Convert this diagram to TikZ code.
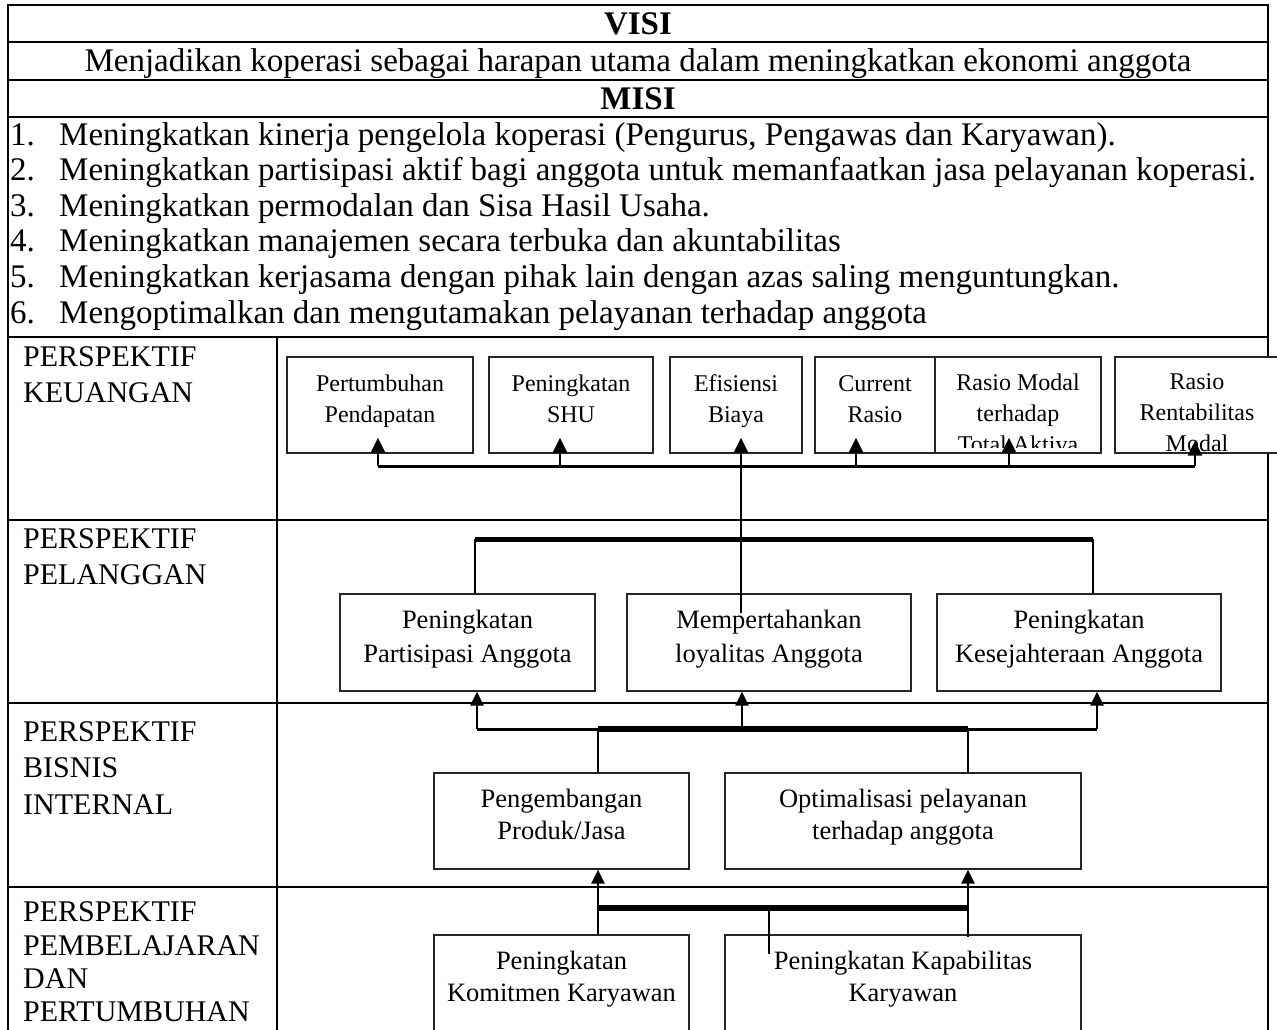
\documentclass[tikz,border=0pt]{standalone}
\usepackage{fontspec}
\setmainfont{Liberation Serif}
\usetikzlibrary{arrows.meta,calc}
\begin{document}
\begin{tikzpicture}[x=1pt,y=-1pt,
  grid/.style={line width=2pt,black},
  bx/.style={draw=black!85,line width=1.3pt,fill=white,inner sep=0pt},
  strt/.style={execute at begin node=\strut,execute at end node=\strut},
  ttop/.style={inner sep=0pt,align=center,strt,font=\fontsize{24}{31}\selectfont},
  tmid/.style={inner sep=0pt,align=center,strt,font=\fontsize{26.5}{34}\selectfont},
  tlow/.style={inner sep=0pt,align=center,strt,font=\fontsize{26.5}{32}\selectfont},
  lab/.style={inner sep=0pt,anchor=base west,font=\fontsize{30}{30}\selectfont},
  itm/.style={inner sep=0pt,anchor=base west,font=\fontsize{33}{33}\selectfont},
  ttl/.style={inner sep=0pt,anchor=base,font=\bfseries\fontsize{33}{33}\selectfont},
  arr/.style={-{Triangle[length=15pt,width=14pt]},line width=2.8pt},
  arrb/.style={-{Triangle[length=14pt,width=13pt]},line width=2.4pt},
  bus/.style={line width=3pt},
  busthick/.style={line width=6pt},
  thinl/.style={line width=1.6pt}]
\useasboundingbox (0,0) rectangle (1277,1029);
\clip (0,0) rectangle (1277,1029);

% ---------- table grid ----------
\foreach \yy in {5,42,80,117,337,520,703,887}
  \draw[grid] (7,\yy) -- (1269,\yy);
\draw[grid] (8,4) -- (8,1040);
\draw[grid] (1268,4) -- (1268,1040);
\draw[grid] (277,337) -- (277,1040);

% ---------- header texts ----------
\node[ttl] (visi) at (638,34) {VISI};
\node[itm,anchor=base] (visitext) at (638,71) {Menjadikan koperasi sebagai harapan utama dalam meningkatkan ekonomi anggota};
\node[ttl] (misi) at (638,109) {MISI};

\node[itm] (n1) at (10,145) {1.};
\node[itm] (m1) at (59,145) {Meningkatkan kinerja pengelola koperasi (Pengurus, Pengawas dan Karyawan).};
\node[itm] (n2) at (10,180.6) {2.};
\node[itm] (m2) at (59,180.6) {Meningkatkan partisipasi aktif bagi anggota untuk memanfaatkan jasa pelayanan koperasi.};
\node[itm] (n3) at (10,216.2) {3.};
\node[itm] (m3) at (59,216.2) {Meningkatkan permodalan dan Sisa Hasil Usaha.};
\node[itm] (n4) at (10,251.8) {4.};
\node[itm] (m4) at (59,251.8) {Meningkatkan manajemen secara terbuka dan akuntabilitas};
\node[itm] (n5) at (10,287.4) {5.};
\node[itm] (m5) at (59,287.4) {Meningkatkan kerjasama dengan pihak lain dengan azas saling menguntungkan.};
\node[itm] (n6) at (10,323) {6.};
\node[itm] (m6) at (59,323) {Mengoptimalkan dan mengutamakan pelayanan terhadap anggota};

% ---------- left column labels ----------
\node[lab] (k1l) at (23,366) {PERSPEKTIF};
\node[lab] (k2l) at (23,402) {KEUANGAN};
\node[lab] (p1l) at (23,548) {PERSPEKTIF};
\node[lab] (p2l) at (23,584) {PELANGGAN};
\node[lab] (s1l) at (23,741) {PERSPEKTIF};
\node[lab] (s2l) at (23,777) {BISNIS};
\node[lab] (s3l) at (23,814) {INTERNAL};
\node[lab] (l1l) at (23,921) {PERSPEKTIF};
\node[lab] (l2l) at (23,955) {PEMBELAJARAN};
\node[lab] (l3l) at (23,988.5) {DAN};
\node[lab] (l4l) at (23,1021.5) {PERTUMBUHAN};

% ---------- keuangan boxes ----------
\node[bx,minimum width=186pt,minimum height=96pt] (b1) at (380,405) {};
\node[bx,minimum width=164pt,minimum height=96pt] (b2) at (571,405) {};
\node[bx,minimum width=132pt,minimum height=96pt] (b3) at (736,405) {};
\node[bx,minimum width=120pt,minimum height=96pt] (b4) at (875,405) {};
\node[bx,minimum width=166pt,minimum height=96pt] (b5) at (1018,405) {};
\node[bx,minimum width=165pt,minimum height=96pt] (b6) at (1197.5,405) {};
\node[ttop] (b1t) at (380,403.5) {Pertumbuhan\\Pendapatan};
\node[ttop] (b2t) at (571,403.5) {Peningkatan\\SHU};
\node[ttop] (b3t) at (736,403.5) {Efisiensi\\Biaya};
\node[ttop] (b4t) at (875,403.5) {Current\\Rasio};
\begin{scope}
  \clip (936,358) rectangle (1100,447);
  \node[ttop] (b5t) at (1018,418) {Rasio Modal\\terhadap\\Total Aktiva};
\end{scope}
\node[ttop] (b6t) at (1197,417) {Rasio\\Rentabilitas\\Modal};

% ---------- pelanggan boxes ----------
\node[bx,minimum width=255pt,minimum height=97pt] (p1) at (467.5,642.5) {};
\node[bx,minimum width=284pt,minimum height=97pt] (p2) at (769,642.5) {};
\node[bx,minimum width=284pt,minimum height=97pt] (p3) at (1079,642.5) {};
\node[tmid] (p1t) at (467.5,641) {Peningkatan\\Partisipasi Anggota};
\node[tmid] (p2t) at (769,641) {Mempertahankan\\loyalitas Anggota};
\node[tmid] (p3t) at (1079,641) {Peningkatan\\Kesejahteraan Anggota};

% ---------- bisnis internal boxes ----------
\node[bx,minimum width=255pt,minimum height=96pt] (s1) at (561.5,821) {};
\node[bx,minimum width=356pt,minimum height=96pt] (s2) at (903,821) {};
\node[tlow] (s1t) at (561.5,819) {Pengembangan\\Produk/Jasa};
\node[tlow] (s2t) at (903,819) {Optimalisasi pelayanan\\terhadap anggota};

% ---------- pembelajaran boxes ----------
\node[bx,minimum width=255pt,minimum height=120pt] (l1) at (561.5,995) {};
\node[bx,minimum width=356pt,minimum height=120pt] (l2) at (903,995) {};
\node[tlow] (l1t) at (561.5,981) {Peningkatan\\Komitmen Karyawan};
\node[tlow] (l2t) at (903,981) {Peningkatan Kapabilitas\\Karyawan};

% ---------- keuangan connectors ----------
\coordinate (k1) at (378,466);
\coordinate (k2) at (560,466);
\coordinate (k3) at (741,466);
\coordinate (k4) at (856,466);
\coordinate (k5) at (1009,466);
\coordinate (k6) at (1195,466);
\draw[bus] (k1) -- (k6);
\draw[arr] (k1) -- ($(k1 |- b1.south)+(0,-16)$);
\draw[arr] (k2) -- ($(k2 |- b2.south)+(0,-16)$);
\draw[arr] (k3) -- ($(k3 |- b3.south)+(0,-16)$);
\draw[arr] (k4) -- ($(k4 |- b4.south)+(0,-16)$);
\draw[arr] (k5) -- ($(k5 |- b5.south)+(0,-16)$);
\draw[arr] (k6) -- ($(k6 |- b6.south)+(0,-13)$);
\draw[line width=2pt] (k3) -- ($(k3 |- p2.north)+(0,20)$);

% ---------- pelanggan connectors ----------
\coordinate (q1) at (475,539);
\coordinate (q3) at (1093,539);
\draw[line width=5pt] (q1) -- (q3);
\draw[thinl] (q1) -- (q1 |- p1.north);
\draw[thinl] (q3) -- (q3 |- p3.north);

% ---------- bisnis connectors ----------
\coordinate (r1) at (477,729);
\coordinate (r2) at (742,729);
\coordinate (r3) at (1097,729);
\coordinate (r4) at (598,729);
\coordinate (r5) at (968,729);
\draw[bus] (r1) -- (r3);
\draw[busthick] (r4) -- (r5);
\draw[arrb] (r1) -- (r1 |- p1.south);
\draw[arrb] (r2) -- (r2 |- p2.south);
\draw[arrb] (r3) -- (r3 |- p3.south);
\draw[thinl] (r4) -- (r4 |- s1.north);
\draw[thinl] (r5) -- (r5 |- s2.north);

% ---------- pembelajaran connectors ----------
\coordinate (u1) at (598,908);
\coordinate (u2) at (968,908);
\coordinate (u3) at (769,908);
\draw[busthick] (u1) -- (u2);
\draw[arrb] (u1) -- (u1 |- s1.south);
\draw[arrb] (u2) -- (u2 |- s2.south);
\draw[thinl] (u1) -- (u1 |- l1.north);
\draw[thinl] (u2) -- ($(u2 |- l2.north)+(0,3)$);
\draw[thinl] (u3) -- ($(u3 |- l2.north)+(0,20)$);
\end{tikzpicture}
\end{document}
